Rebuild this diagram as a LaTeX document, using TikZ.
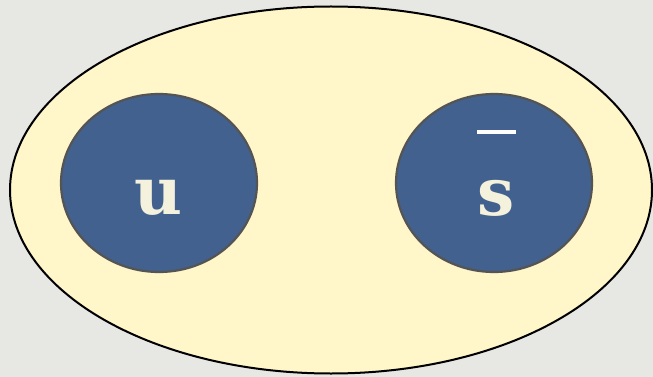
\documentclass[tikz,border=0pt]{standalone}
\usepackage{fontspec}
\newfontfamily\letterfont[BoldFont={DejaVu Serif Bold}]{DejaVu Serif}
\usetikzlibrary{shapes.geometric}
\definecolor{bgray}{HTML}{E7E7E4}
\definecolor{paleyellow}{HTML}{FFF6C9}
\definecolor{slateblue}{HTML}{42618F}
\definecolor{ringgray}{HTML}{545454}
\definecolor{cream}{HTML}{F4F1DC}
\tikzset{
  setbox/.style={ellipse, draw=black, line width=2pt, fill=paleyellow, inner sep=0pt},
  subset/.style={ellipse, draw=ringgray, line width=2.2pt, fill=slateblue, inner sep=0pt,
                 minimum width=196pt, minimum height=178pt},
  letter/.style={text=cream, font=\letterfont\bfseries\fontsize{66}{66}\selectfont, inner sep=0pt}
}
\begin{document}
\begin{tikzpicture}[x=1pt,y=-1pt]
\fill[bgray] (0,0) rectangle (653,377);
\useasboundingbox (0,0) rectangle (653,377);
\node[setbox, minimum width=642pt, minimum height=367pt] (U) at (331,190) {};
\node[subset] (A) at (159,183) {};
\node[subset] (B) at (494,183) {};
\node[letter] (u) at (158,198) {u};
\node[letter] (s) at (496,198) {s};
\fill[white] (477,130) rectangle (516,134);
\end{tikzpicture}
\end{document}
